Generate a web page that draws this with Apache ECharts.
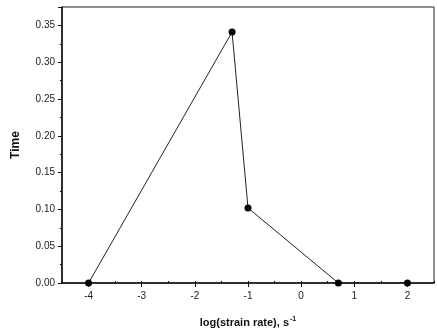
<!DOCTYPE html>
<html>
<head>
<meta charset="utf-8">
<script src="https://cdn.jsdelivr.net/npm/echarts@6/dist/echarts.min.js"></script>
<style>
  html, body { margin: 0; padding: 0; background: #fff; }
  #chart { width: 437px; height: 333px; }
</style>
</head>
<body>
<div id="chart"></div>
<script>
// values
const logRate = [-4, -1.3, -1, 0.7, 2]
const timeValues = [0, 0.341, 0.102, 0, 0]
const xLabels = [-4, -3, -2, -1, 0, 1, 2]

const chart = echarts.init(document.getElementById('chart'))
const font = 'Liberation Sans, Arial, sans-serif'

const option = {
  animation: false,
  backgroundColor: '#fff',
  grid: {
    left: 62,
    right: 3,
    top: 7,
    bottom: 47,
    show: true,
    borderColor: '#222',
    borderWidth: 1
  },
  xAxis: [
    {
      type: 'value',
      min: -4.5,
      max: 2.5,
      interval: 0.5,
      name: '{b|log(strain rate), s}{s|-1}',
      nameLocation: 'middle',
      nameGap: 33,
      nameTextStyle: {
        rich: {
          b: { fontFamily: font, fontWeight: 'bold', fontSize: 11, color: '#111' },
          s: { fontFamily: font, fontWeight: 'bold', fontSize: 7, color: '#111', verticalAlign: 'top', padding: [0, 0, 6, 1] }
        }
      },
      axisLine: { show: true, onZero: false, lineStyle: { color: '#111', width: 1.5 } },
      axisTick: { show: true, length: 4, customValues: xLabels, lineStyle: { color: '#111' } },
      axisLabel: {
        customValues: xLabels,
        color: '#222',
        fontFamily: font,
        fontSize: 10,
        margin: 8
      },
      splitLine: { show: false }
    },
    {
      type: 'value',
      min: -4.5,
      max: 2.5,
      interval: 0.5,
      position: 'bottom',
      offset: 0,
      axisLine: { show: true, onZero: false, lineStyle: { color: 'rgba(0,0,0,0)' } },
      axisTick: { show: true, inside: true, length: 2, lineStyle: { color: '#111' } },
      axisLabel: { show: false },
      splitLine: { show: false }
    }
  ],
  yAxis: {
    type: 'value',
    min: 0,
    max: 0.375,
    interval: 0.05,
    name: 'Time',
    nameLocation: 'middle',
    nameGap: 40,
    nameTextStyle: { fontFamily: font, fontWeight: 'bold', fontSize: 12, color: '#111' },
    axisLine: { show: true, onZero: false, lineStyle: { color: '#111', width: 1.5 } },
    axisTick: { show: true, length: 4, lineStyle: { color: '#111' } },
    minorTick: { show: true, splitNumber: 2, length: 2, lineStyle: { color: '#111' } },
    axisLabel: {
      color: '#222',
      fontFamily: font,
      fontSize: 10,
      margin: 7,
      showMaxLabel: false,
      formatter: v => v.toFixed(2)
    },
    splitLine: { show: false }
  },
  series: [
    {
      type: 'line',
      xAxisIndex: 0,
      data: logRate.map((x, i) => [x, timeValues[i]]),
      symbol: 'circle',
      symbolSize: 7,
      itemStyle: { color: '#000' },
      lineStyle: { color: '#222', width: 1 }
    }
  ]
}

chart.setOption(option)
</script>
</body>
</html>
